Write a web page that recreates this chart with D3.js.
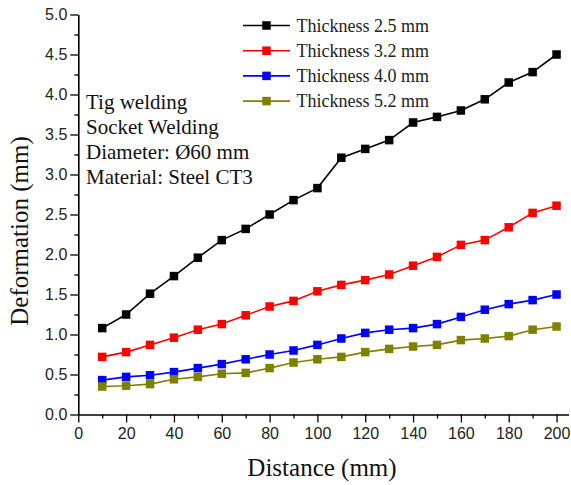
<!DOCTYPE html>
<html>
<head>
<meta charset="utf-8">
<script src="https://cdn.jsdelivr.net/npm/d3@7"></script>
<style>
  body { margin: 0; background: #fff; }
  svg { display: block; }
</style>
</head>
<body>
<svg id="chart" width="571" height="485"></svg>
<script>
const distances = [10,20,30,40,50,60,70,80,90,100,110,120,130,140,150,160,170,180,190,200];
const thick25 = [1.08,1.25,1.51,1.73,1.96,2.18,2.32,2.50,2.68,2.83,3.21,3.32,3.43,3.65,3.72,3.80,3.94,4.15,4.28,4.50];
const thick32 = [0.72,0.78,0.87,0.96,1.06,1.13,1.24,1.35,1.42,1.54,1.62,1.68,1.75,1.86,1.97,2.12,2.18,2.34,2.52,2.61];
const thick40 = [0.43,0.47,0.49,0.53,0.58,0.63,0.69,0.75,0.80,0.87,0.95,1.02,1.06,1.08,1.13,1.22,1.31,1.38,1.43,1.50];
const thick52 = [0.35,0.36,0.38,0.44,0.47,0.51,0.52,0.58,0.65,0.69,0.72,0.78,0.82,0.85,0.87,0.93,0.95,0.98,1.06,1.10];
const seriesNames = ["Thickness 2.5 mm","Thickness 3.2 mm","Thickness 4.0 mm","Thickness 5.2 mm"];
const seriesColors = ["#000000","#ff0000","#0000ff","#808000"];
const xTicks = [0,20,40,60,80,100,120,140,160,180,200];
const yTicks = [0.0,0.5,1.0,1.5,2.0,2.5,3.0,3.5,4.0,4.5,5.0];
const annotation = ["Tig welding","Socket Welding","Diameter: Ø60 mm","Material: Steel CT3"];

const series = [thick25, thick32, thick40, thick52].map((vals, i) => ({
  name: seriesNames[i], color: seriesColors[i],
  points: distances.map((d, j) => ({x: d, y: vals[j]}))
}));

const svg = d3.select("#chart");
const pLeft = 78.3, pTop = 14.5, pRight = 568.5, pBottom = 414.5;
const x = d3.scaleLinear().domain([0, 205]).range([pLeft, pRight]);
const y = d3.scaleLinear().domain([0, 5]).range([pBottom, pTop]);

const tickFont = "'Liberation Sans', Arial, sans-serif";
const serif = "'Liberation Serif', 'Times New Roman', serif";

const xMinor = d3.range(10, 201, 20);
const yMinor = d3.range(0.25, 5, 0.5);

const xAxis = svg.append("g").attr("transform", `translate(0,${pBottom})`)
  .call(d3.axisBottom(x).tickValues(xTicks).tickFormat(d3.format("d")).tickSize(8).tickSizeOuter(0));
svg.append("g").attr("transform", `translate(0,${pBottom})`)
  .call(d3.axisBottom(x).tickValues(xMinor).tickFormat("").tickSize(4).tickSizeOuter(0))
  .select(".domain").remove();
const yAxis = svg.append("g").attr("transform", `translate(${pLeft},0)`)
  .call(d3.axisLeft(y).tickValues(yTicks).tickFormat(d3.format(".1f")).tickSize(8).tickSizeOuter(0));
svg.append("g").attr("transform", `translate(${pLeft},0)`)
  .call(d3.axisLeft(y).tickValues(yMinor).tickFormat("").tickSize(4).tickSizeOuter(0))
  .select(".domain").remove();

svg.selectAll(".domain").attr("stroke", "#000").attr("stroke-width", 1.6);
svg.selectAll(".tick line").attr("stroke", "#000").attr("stroke-width", 1.3);
xAxis.selectAll(".tick text").attr("font-family", tickFont).attr("font-size", 16).attr("fill", "#222").attr("dy", "0.9em").attr("y", 10);
yAxis.selectAll(".tick text").attr("font-family", tickFont).attr("font-size", 16).attr("fill", "#222").attr("x", -11);

const line = d3.line().x(d => x(d.x)).y(d => y(d.y));
const ms = 8.5;
series.forEach(s => {
  svg.append("path").datum(s.points).attr("d", line)
    .attr("fill", "none").attr("stroke", s.color).attr("stroke-width", 1.6);
  svg.selectAll(null).data(s.points).enter().append("rect")
    .attr("x", d => x(d.x) - ms/2).attr("y", d => y(d.y) - ms/2)
    .attr("width", ms).attr("height", ms).attr("fill", s.color);
});

const lg = svg.append("g");
series.forEach((s, i) => {
  const cy = 25.5 + i * 25.2;
  lg.append("line").attr("x1", 243).attr("x2", 290).attr("y1", cy).attr("y2", cy)
    .attr("stroke", s.color).attr("stroke-width", 1.6);
  lg.append("rect").attr("x", 266.5 - ms/2).attr("y", cy - ms/2).attr("width", ms).attr("height", ms).attr("fill", s.color);
  lg.append("text").attr("x", 296.5).attr("y", cy + 6).attr("font-family", serif).attr("font-size", 18)
    .attr("fill", "#222").text(s.name);
});

annotation.forEach((t, i) => {
  svg.append("text").attr("x", 86).attr("y", 108.5 + i * 25).attr("font-family", serif)
    .attr("font-size", 21).attr("fill", "#111").text(t);
});

svg.append("text").attr("x", 322).attr("y", 476).attr("text-anchor", "middle")
  .attr("font-family", serif).attr("font-size", 25).attr("fill", "#111").text("Distance (mm)");
svg.append("text").attr("transform", `translate(28,231) rotate(-90)`).attr("text-anchor", "middle")
  .attr("font-family", serif).attr("font-size", 25).attr("fill", "#111").text("Deformation (mm)");
</script>
</body>
</html>
